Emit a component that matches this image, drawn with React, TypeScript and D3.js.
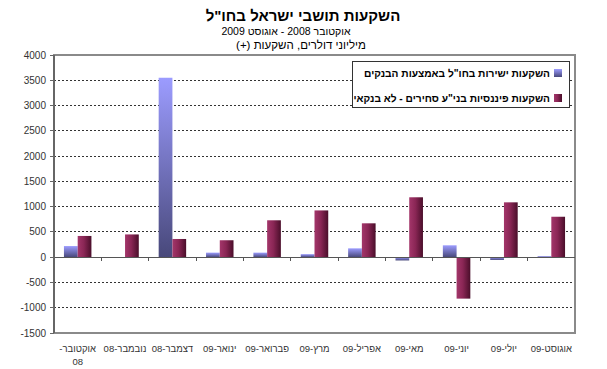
import React from "react";
import * as d3 from "d3";

const categories = ["אוקטובר-08", "נובמבר-08", "דצמבר-08", "ינואר-09", "פברואר-09", "מרץ-09", "אפריל-09", "מאי-09", "יוני-09", "יולי-09", "אוגוסט-09"];
const banksSeries = [220, 0, 3550, 90, 90, 60, 175, -65, 235, -55, 20];
const nonBankSeries = [420, 450, 360, 335, 730, 925, 670, 1185, -820, 1085, 800];
const seriesNames = ["השקעות ישירות בחו\"ל באמצעות הבנקים", "השקעות פיננסיות בני\"ע סחירים - לא בנקאי"];
const yTicks = [-1500, -1000, -500, 0, 500, 1000, 1500, 2000, 2500, 3000, 3500, 4000];
const titleText = "השקעות תושבי ישראל בחו\"ל";
const subtitleText = "אוקטובר 2008 - אוגוסט 2009";
const unitText = "מיליוני דולרים, השקעות (+)";

const W = 607;
const H = 369;
const plot = { left: 54, right: 575, top: 55, bottom: 333 };
const FONT = "'Liberation Sans', Arial, sans-serif";

export default function App() {
  const x = d3.scaleBand<string>().domain(categories).range([plot.left, plot.right]).paddingInner(0).paddingOuter(0);
  const y = d3.scaleLinear().domain([-1500, 4000]).range([plot.bottom, plot.top]);
  const groupW = x.bandwidth() * 0.58;
  const barW = groupW / 2;
  const y0 = y(0);

  const barRect = (v: number, cx: number, fill: string, key: string) => {
    const top = Math.min(y(v), y0);
    const h = Math.abs(y(v) - y0);
    if (h < 0.01) return null;
    return <rect key={key} x={cx} y={top} width={barW} height={h} fill={fill} />;
  };

  return (
    <svg width={W} height={H} style={{ position: "absolute", left: 0, top: 0, background: "#fff" }} fontFamily={FONT}>
      <defs>
        <linearGradient id="gBlue" x1="0" y1="0" x2="0" y2="1">
          <stop offset="0" stopColor="#9c9cff" />
          <stop offset="1" stopColor="#48487a" />
        </linearGradient>
        <linearGradient id="gRed" x1="0" y1="0" x2="1" y2="0">
          <stop offset="0" stopColor="#a3366a" />
          <stop offset="0.45" stopColor="#8a2655" />
          <stop offset="1" stopColor="#4a0e2a" />
        </linearGradient>
      </defs>

      {/* Titles */}
      <text x={303} y={21} textAnchor="middle" direction="rtl" fontSize={15} fontWeight="bold" fill="#000">{titleText}</text>
      <text x={286} y={35} textAnchor="middle" direction="rtl" fontSize={10.5} fill="#000">{subtitleText}</text>
      <text x={301} y={49} textAnchor="middle" direction="rtl" fontSize={11.5} fill="#000">{unitText}</text>

      {/* Gridlines */}
      {yTicks.filter(t => t !== 0 && t !== 4000 && t !== -1500).map(t => (
        <line key={"g" + t} x1={plot.left} x2={plot.right} y1={y(t)} y2={y(t)} stroke="#333" strokeWidth={1} strokeDasharray="2,2" shapeRendering="crispEdges" />
      ))}

      {/* Plot border */}
      <rect x={plot.left} y={plot.top} width={plot.right - plot.left} height={plot.bottom - plot.top} fill="none" stroke="#8a8a8a" strokeWidth={1.5} shapeRendering="crispEdges" />

      {/* Bars */}
      {categories.map((c, i) => {
        const gx = (x(c) as number) + (x.bandwidth() - groupW) / 2;
        return (
          <g key={c}>
            {barRect(banksSeries[i], gx, "url(#gBlue)", "b" + i)}
            {barRect(nonBankSeries[i], gx + barW, "url(#gRed)", "r" + i)}
          </g>
        );
      })}

      {/* Zero line */}
      <line x1={plot.left} x2={plot.right} y1={y0} y2={y0} stroke="#555" strokeWidth={1} shapeRendering="crispEdges" />

      {/* X ticks */}
      {categories.slice(1).map(c => (
        <line key={"xt" + c} x1={x(c) as number} x2={x(c) as number} y1={y0} y2={y0 + 4} stroke="#555" shapeRendering="crispEdges" />
      ))}

      {/* Y axis */}
      <line x1={plot.left} x2={plot.left} y1={plot.top} y2={plot.bottom} stroke="#666" strokeWidth={1.5} shapeRendering="crispEdges" />
      {yTicks.map(t => (
        <g key={"yt" + t}>
          <line x1={plot.left - 4} x2={plot.left} y1={y(t)} y2={y(t)} stroke="#666" shapeRendering="crispEdges" />
          <text x={plot.left - 8} y={y(t)} dy="0.35em" textAnchor="end" fontSize={10} fill="#333">{t}</text>
        </g>
      ))}

      {/* X labels */}
      {categories.map((c, i) => {
        const cx = (x(c) as number) + x.bandwidth() / 2;
        if (i === 0) {
          const parts = c.split("-");
          return (
            <g key={"xl" + c}>
              <text x={cx} y={352} textAnchor="middle" direction="rtl" fontSize={9.5} fill="#333">{parts[0] + "-"}</text>
              <text x={cx} y={365} textAnchor="middle" fontSize={9.5} fill="#333">{parts[1]}</text>
            </g>
          );
        }
        return <text key={"xl" + c} x={cx} y={352} textAnchor="middle" direction="rtl" fontSize={9.5} fill="#333">{c}</text>;
      })}

      {/* Legend */}
      <rect x={352} y={61} width={217} height={46} fill="#fff" stroke="#333" strokeWidth={1} shapeRendering="crispEdges" />
      <rect x={554} y={69} width={8} height={8} fill="url(#gBlue)" />
      <rect x={554} y={94} width={8} height={8} fill="url(#gRed)" />
      <text x={550} y={77} textAnchor="start" direction="rtl" fontSize={10.2} fontWeight="bold" fill="#000">{seriesNames[0]}</text>
      <text x={550} y={102} textAnchor="start" direction="rtl" fontSize={10.2} fontWeight="bold" fill="#000">{seriesNames[1]}</text>
    </svg>
  );
}
